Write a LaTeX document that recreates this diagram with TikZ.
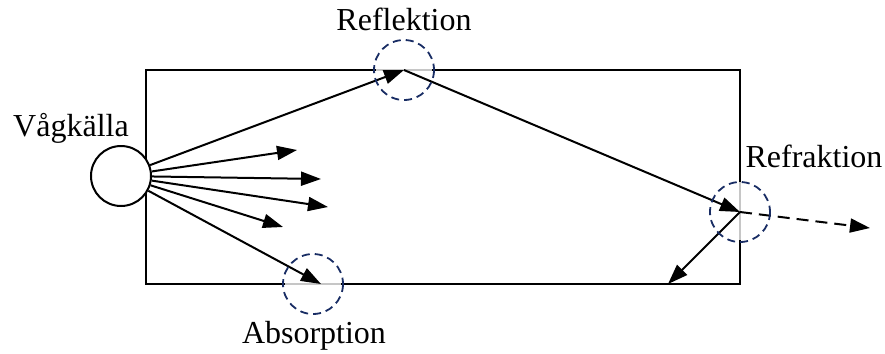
\documentclass[tikz,border=0pt]{standalone}
\usepackage{fontspec}
\setmainfont{Liberation Serif}
\usetikzlibrary{arrows.meta}
\definecolor{ringblue}{RGB}{25,45,100}

\tikzset{
  ray/.style={line width=1pt, -{Triangle[length=10pt,width=7pt]}},
  ring/.style={ringblue, line width=0.9pt, dash pattern=on 4pt off 2.5pt},
  lbl/.style={font=\fontsize{16}{19}\selectfont, inner sep=0pt, anchor=base}
}

\begin{document}
\begin{tikzpicture}[x=0.5pt,y=-0.5pt]
  \useasboundingbox (0,0) rectangle (885,354);

  % tank
  \draw[line width=1pt] (146,70) rectangle (740,284);
  \draw[gray!45, line width=1pt] (376,70) -- (432,70);
  \draw[gray!45, line width=1pt] (285,284) -- (341,284);
  \draw[gray!45, line width=1pt] (740,182) -- (740,240);

  \coordinate (refl) at (404,70);
  \coordinate (absb) at (321,284);
  \coordinate (refr) at (740,212);
  \coordinate (out) at (870,228);
  \coordinate (back) at (668,284);

  % source
  \node[draw, circle, line width=1pt, minimum size=30pt, inner sep=0pt, fill=white] (src) at (121,176) {};
  \node[lbl] (srclbl) at (71,136) {Vågkälla};

  \draw[ray] (src) -- (refl);
  \draw[ray] (src) -- (297,150);
  \draw[ray] (src) -- (321,179);
  \draw[ray] (src) -- (328,207);
  \draw[ray] (src) -- (283,227);
  \draw[ray] (src) -- (absb);

  \draw[ray] (refl) -- (refr);
  \draw[ray, dash pattern=on 6pt off 3.5pt] (refr) -- (out);
  \draw[ray] (refr) -- (back);

  % marked events
  \draw[ring] (refl) circle (30);
  \draw[ring] (refr) circle (30);
  \draw[ring] (313,284) circle (30);

  \node[lbl] (refllbl) at (404,30) {Reflektion};
  \node[lbl] (refrlbl) at (814,167) {Refraktion};
  \node[lbl] (abslbl) at (314,343) {Absorption};
\end{tikzpicture}
\end{document}
